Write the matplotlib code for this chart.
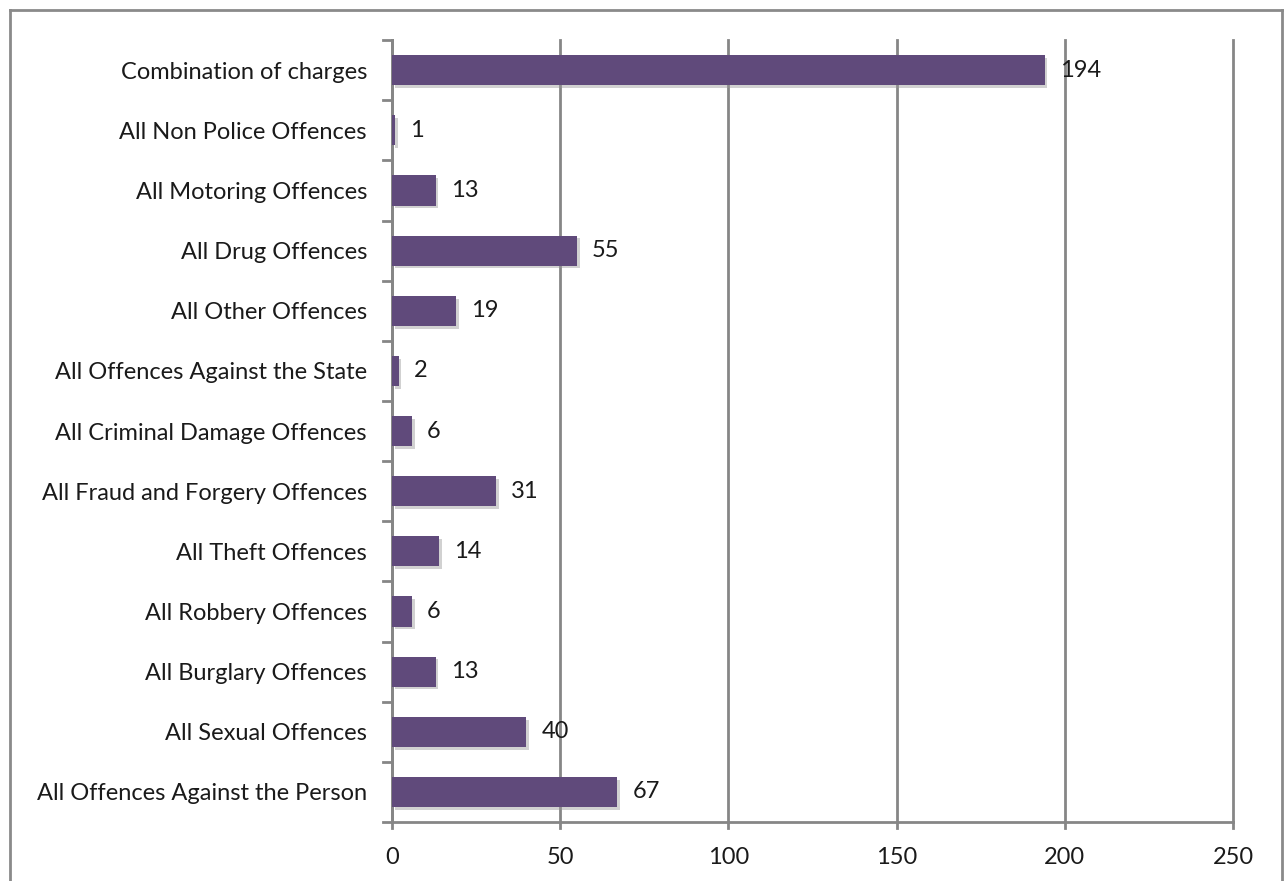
import matplotlib.pyplot as plt
import matplotlib.patheffects as pe
from matplotlib.lines import Line2D

plt.rcParams['font.family'] = ['Lato', 'DejaVu Sans']

categories = [
    'All Offences Against the Person',
    'All Sexual Offences',
    'All Burglary Offences',
    'All Robbery Offences',
    'All Theft Offences',
    'All Fraud and Forgery Offences',
    'All Criminal Damage Offences',
    'All Offences Against the State',
    'All Other Offences',
    'All Drug Offences',
    'All Motoring Offences',
    'All Non Police Offences',
    'Combination of charges',
]
values = [67, 40, 13, 6, 14, 31, 6, 2, 19, 55, 13, 1, 194]
x_ticks = [0, 50, 100, 150, 200, 250]

bar_color = '#604a7b'
grid_color = '#868686'
fs = 17

fig = plt.figure(figsize=(12.85, 8.81), dpi=100)
ax = fig.add_axes([0.305, 0.067, 0.6545, 0.8874])

y = list(range(len(categories)))
bars = ax.barh(y, values, height=0.5, color=bar_color, zorder=3)
for b in bars:
    b.set_path_effects([pe.SimplePatchShadow(offset=(2, -2), shadow_rgbFace='#999999', alpha=0.45), pe.Normal()])

for yi, v in zip(y, values):
    ax.text(v + 4.5, yi, str(v), va='center', ha='left', fontsize=fs, color='#1a1a1a', zorder=4)

ax.set_xlim(0, 250)
ax.set_ylim(-0.5, len(categories) - 0.5)
ax.set_xticks(x_ticks)
ax.set_xticklabels([str(t) for t in x_ticks], fontsize=fs, color='#1a1a1a')
ax.set_yticks(y)
ax.set_yticklabels(categories, fontsize=fs, color='#1a1a1a')
ax.tick_params(axis='y', length=0, pad=18)
ax.tick_params(axis='x', length=0, pad=18)

# category boundary ticks on the y axis
for b in range(len(categories) + 1):
    ax.plot([-0.011, 0], [b - 0.5, b - 0.5], transform=ax.get_yaxis_transform(),
            color=grid_color, lw=2, clip_on=False, zorder=2)
# x ticks below axis
for t in x_ticks:
    ax.plot([t, t], [0, -0.008], transform=ax.get_xaxis_transform(),
            color=grid_color, lw=2, clip_on=False, zorder=2)

ax.grid(axis='x', color=grid_color, lw=2, zorder=0)
for gl in ax.get_xgridlines():
    gl.set_clip_on(False)
for s in ['top', 'right']:
    ax.spines[s].set_visible(False)
ax.spines['left'].set_color(grid_color)
ax.spines['left'].set_linewidth(2)
ax.spines['bottom'].set_color(grid_color)
ax.spines['bottom'].set_linewidth(2)

# outer chart border
W, H = 1285, 881
for xs, ys in [([10, 10], [0, H - 10]), ([10, 1282], [H - 10, H - 10]), ([1282, 1282], [H - 10, 0])]:
    fig.add_artist(Line2D([x / W for x in xs], [yy / H for yy in ys], color='#8a8a8a', lw=2))

fig.savefig('out.png', dpi=100)
